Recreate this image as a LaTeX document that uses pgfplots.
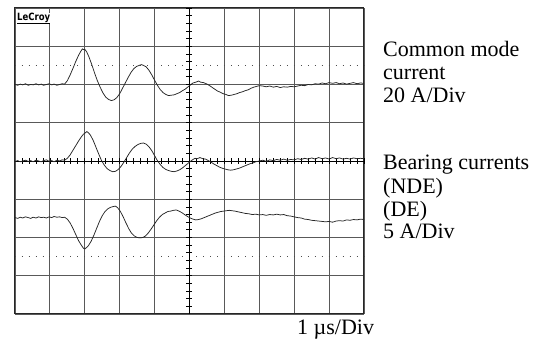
\documentclass[border=0pt]{standalone}
\usepackage{pgfplots}
\pgfplotsset{compat=1.18}
\usepackage{fontspec}
\setmainfont{Liberation Serif}
\newfontfamily\logofont[FakeStretch=0.85]{DejaVu Sans}
\begin{document}
\begin{tikzpicture}
\begin{axis}[
  x=34.9pt, y=38.25pt,
  xmin=0, xmax=10, ymin=0, ymax=8,
  xtick={0,...,10}, ytick={0,...,8},
  xticklabels={}, yticklabels={},
  major tick length=0pt,
  grid=major,
  major grid style={draw=black!65, line width=0.8pt},
  axis line style={line width=1pt, black!85},
  clip=false,
]
% dotted reference lines
\draw[black!70, line width=0.7pt, dash pattern=on 0.8pt off 6.18pt, dash phase=0.4pt] (axis cs:0,6.5) -- (axis cs:10,6.5);
\draw[black!70, line width=0.7pt, dash pattern=on 0.8pt off 6.18pt, dash phase=0.4pt] (axis cs:0,1.5) -- (axis cs:10,1.5);
% center crosshair
\draw[black, line width=0.9pt] (axis cs:5,0) -- (axis cs:5,8);
\draw[black, line width=0.9pt] (axis cs:0,4) -- (axis cs:10,4);
\pgfplotsinvokeforeach{0.2,0.4,...,7.9}{
  \draw[black, line width=0.7pt] ([xshift=-3pt]axis cs:5,#1) -- ([xshift=3pt]axis cs:5,#1);
}
\pgfplotsinvokeforeach{0.2,0.4,...,9.9}{
  \draw[black, line width=0.7pt] ([yshift=-3pt]axis cs:#1,4) -- ([yshift=3pt]axis cs:#1,4);
}
% Common mode current
\addplot[black!85, line width=0.75pt] coordinates {
(0,6.00) (0.08,5.98) (0.15,6.01) (0.22,5.99) (0.3,6.02) (0.38,5.98) (0.45,6.00) (0.52,5.99) (0.6,6.02) (0.68,5.99) (0.75,6.01) (0.82,5.98) (0.9,6.00) (0.98,6.02) (1.05,5.99) (1.12,6.01) (1.2,5.98) (1.28,6.00) (1.35,6.02) (1.42,6.01)
(1.5,6.10) (1.58,6.25) (1.66,6.42) (1.74,6.60) (1.82,6.76) (1.88,6.86) (1.93,6.93) (1.97,6.91) (2.0,6.92) (2.05,6.86) (2.12,6.72) (2.2,6.52) (2.28,6.30) (2.36,6.10) (2.44,5.93) (2.52,5.78) (2.6,5.67) (2.68,5.61) (2.76,5.58) (2.84,5.60) (2.92,5.66) (3.0,5.76) (3.08,5.90) (3.16,6.04) (3.24,6.18) (3.32,6.31) (3.4,6.41) (3.48,6.47) (3.56,6.50) (3.62,6.52) (3.68,6.50) (3.76,6.46) (3.84,6.37) (3.92,6.25) (4.0,6.11) (4.08,5.98) (4.16,5.87) (4.24,5.79) (4.32,5.74) (4.4,5.71) (4.48,5.72) (4.56,5.73) (4.64,5.76) (4.72,5.79) (4.8,5.84) (4.88,5.88) (4.96,5.94) (5.04,6.00) (5.1,6.04) (5.18,6.06) (5.26,6.09) (5.32,6.06) (5.4,6.05) (5.48,6.02) (5.56,5.98) (5.64,5.93) (5.72,5.88) (5.8,5.83) (5.88,5.80) (5.96,5.76) (6.04,5.74) (6.12,5.71) (6.2,5.72) (6.28,5.74) (6.36,5.76) (6.44,5.79) (6.52,5.81) (6.6,5.84) (6.68,5.86) (6.76,5.90) (6.84,5.93) (6.92,5.95) (7.0,5.97) (7.1,5.96) (7.2,5.94) (7.3,5.96) (7.4,5.93) (7.5,5.95) (7.6,5.92) (7.7,5.94) (7.8,5.93) (7.9,5.95) (8.0,5.94) (8.1,5.96) (8.2,5.98) (8.3,5.97) (8.4,6.00) (8.5,5.99) (8.6,6.02) (8.7,6.01) (8.8,6.04) (8.9,6.02) (9.0,6.05) (9.1,6.03) (9.2,6.05) (9.3,6.02) (9.4,6.04) (9.5,6.01) (9.6,6.03) (9.7,6.05) (9.8,6.02) (9.9,6.04) (10,6.03)
};
% Bearing current NDE
\addplot[black!85, line width=0.75pt] coordinates {
(0,3.99) (0.08,4.01) (0.15,3.98) (0.22,4.00) (0.3,4.02) (0.38,3.99) (0.45,4.01) (0.52,3.98) (0.6,4.02) (0.68,4.00) (0.75,3.98) (0.82,4.01) (0.9,4.03) (0.98,3.99) (1.05,4.01) (1.12,3.98) (1.2,4.02) (1.28,4.00) (1.35,4.03) (1.42,4.02)
(1.5,4.07) (1.58,4.16) (1.66,4.28) (1.74,4.40) (1.82,4.52) (1.9,4.63) (1.96,4.70) (2.02,4.74) (2.06,4.77) (2.1,4.74) (2.16,4.68) (2.24,4.54) (2.32,4.36) (2.4,4.18) (2.48,4.01) (2.56,3.89) (2.64,3.80) (2.72,3.75) (2.8,3.72) (2.88,3.73) (2.96,3.78) (3.04,3.86) (3.12,3.97) (3.2,4.09) (3.28,4.21) (3.36,4.31) (3.44,4.38) (3.52,4.43) (3.6,4.46) (3.68,4.47) (3.76,4.44) (3.84,4.37) (3.92,4.27) (4.0,4.14) (4.08,4.01) (4.16,3.91) (4.24,3.83) (4.32,3.78) (4.4,3.75) (4.48,3.73) (4.56,3.72) (4.64,3.74) (4.72,3.77) (4.8,3.82) (4.88,3.88) (4.96,3.94) (5.04,4.00) (5.1,4.04) (5.16,4.07) (5.22,4.06) (5.3,4.09) (5.38,4.06) (5.46,4.05) (5.54,4.01) (5.62,3.97) (5.7,3.92) (5.78,3.88) (5.86,3.84) (5.94,3.81) (6.02,3.79) (6.1,3.77) (6.18,3.76) (6.26,3.77) (6.34,3.79) (6.42,3.81) (6.5,3.84) (6.58,3.87) (6.66,3.90) (6.74,3.93) (6.82,3.95) (6.9,3.98) (7.0,4.00) (7.1,4.02) (7.2,3.99) (7.3,4.03) (7.4,4.01) (7.5,4.04) (7.6,4.02) (7.7,4.05) (7.8,4.02) (7.9,4.04) (8.0,4.03) (8.1,4.06) (8.2,4.04) (8.3,4.07) (8.4,4.05) (8.5,4.08) (8.6,4.05) (8.7,4.09) (8.8,4.06) (8.9,4.08) (9.0,4.05) (9.1,4.09) (9.2,4.06) (9.3,4.08) (9.4,4.05) (9.5,4.07) (9.6,4.05) (9.7,4.08) (9.8,4.06) (9.9,4.07) (10,4.06)
};
% Bearing current DE
\addplot[black!85, line width=0.75pt] coordinates {
(0,2.52) (0.08,2.50) (0.15,2.53) (0.22,2.51) (0.3,2.54) (0.38,2.52) (0.45,2.50) (0.52,2.53) (0.6,2.51) (0.68,2.54) (0.75,2.52) (0.82,2.53) (0.9,2.51) (0.98,2.54) (1.05,2.52) (1.12,2.55) (1.2,2.53) (1.28,2.54) (1.35,2.52) (1.42,2.53)
(1.5,2.48) (1.58,2.38) (1.66,2.24) (1.74,2.08) (1.82,1.92) (1.9,1.80) (1.96,1.72) (2.0,1.70) (2.04,1.73) (2.1,1.78) (2.18,1.90) (2.26,2.06) (2.34,2.24) (2.42,2.42) (2.5,2.57) (2.58,2.68) (2.66,2.75) (2.74,2.79) (2.82,2.81) (2.88,2.82) (2.94,2.78) (3.02,2.68) (3.1,2.54) (3.18,2.38) (3.26,2.23) (3.34,2.11) (3.42,2.04) (3.5,2.00) (3.58,1.99) (3.66,2.00) (3.74,2.04) (3.82,2.12) (3.9,2.22) (3.98,2.33) (4.06,2.44) (4.14,2.53) (4.22,2.60) (4.3,2.64) (4.38,2.68) (4.46,2.69) (4.54,2.71) (4.62,2.72) (4.7,2.69) (4.78,2.65) (4.86,2.60) (4.94,2.55) (5.02,2.51) (5.1,2.48) (5.18,2.46) (5.26,2.47) (5.34,2.49) (5.42,2.52) (5.5,2.55) (5.58,2.58) (5.66,2.61) (5.74,2.64) (5.82,2.66) (5.9,2.68) (5.98,2.69) (6.06,2.70) (6.14,2.71) (6.22,2.70) (6.3,2.69) (6.4,2.67) (6.5,2.65) (6.6,2.63) (6.7,2.62) (6.8,2.60) (6.9,2.61) (7.0,2.59) (7.1,2.60) (7.2,2.58) (7.3,2.60) (7.4,2.59) (7.5,2.61) (7.6,2.59) (7.7,2.60) (7.8,2.57) (7.9,2.56) (8.0,2.54) (8.1,2.52) (8.2,2.51) (8.3,2.48) (8.4,2.47) (8.5,2.45) (8.6,2.44) (8.7,2.43) (8.8,2.42) (8.9,2.41) (9.0,2.42) (9.1,2.40) (9.2,2.43) (9.3,2.44) (9.4,2.43) (9.5,2.46) (9.6,2.45) (9.7,2.47) (9.8,2.46) (9.9,2.48) (10,2.47)
};
% logo
\node[anchor=base west, inner sep=0pt, fill=white] at (axis cs:0.057,7.686) {\logofont\fontsize{10}{10}\selectfont\bfseries\underline{LeCroy}};
% labels
\begin{scope}[every node/.style={anchor=base west, inner sep=0pt, font=\fontsize{22}{23}\selectfont}]
\node at (axis cs:10.544,6.72) {Common mode};
\node at (axis cs:10.544,6.12) {current};
\node at (axis cs:10.544,5.52) {20 A/Div};
\node at (axis cs:10.544,3.765) {Bearing currents};
\node at (axis cs:10.544,3.163) {(NDE)};
\node at (axis cs:10.544,2.562) {(DE)};
\node at (axis cs:10.544,1.961) {5 A/Div};
\node at (axis cs:8.08,-0.523) {1 µs/Div};
\end{scope}
% bounding box
\path (axis cs:-0.4298,-0.7059) rectangle (axis cs:14.986,8.209);
\end{axis}
\end{tikzpicture}
\end{document}
